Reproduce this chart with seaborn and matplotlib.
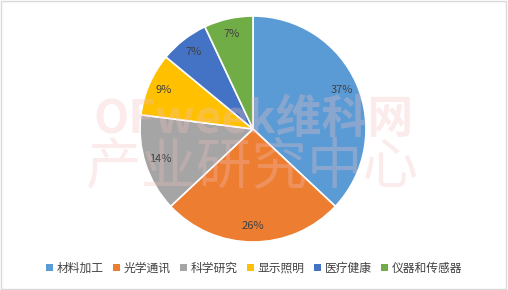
import matplotlib
matplotlib.use("Agg")
import matplotlib.pyplot as plt
import seaborn as sns
from matplotlib.patches import Patch, Rectangle

categories = ["材料加工", "光学通讯", "科学研究", "显示照明", "医疗健康", "仪器和传感器"]
values = [37, 26, 14, 9, 7, 7]
colors = ["#5B9BD5", "#ED7D31", "#A5A5A5", "#FFC000", "#4472C4", "#70AD47"]

sns.set_theme(style="white")
plt.rcParams['font.family'] = ['Noto Sans CJK SC', 'DejaVu Sans']

fig = plt.figure(figsize=(5.08, 2.90), dpi=100)
fig.patch.set_facecolor("white")
fig.patches.append(Rectangle((0.002, 0.003), 0.995, 0.994, transform=fig.transFigure,
                             fill=False, edgecolor="#D9D9D9", linewidth=1))

# pie centre (253,129) px, radius 113 px
r = 113
cx, cy = 253, 129
ax = fig.add_axes([(cx - r) / 508, (290 - cy - r) / 290, 2 * r / 508, 2 * r / 290])
pal = sns.color_palette(colors)
wedges, texts, autotexts = ax.pie(
    values, colors=pal, startangle=90, counterclock=False,
    autopct="%.0f%%", pctdistance=0.86,
    wedgeprops=dict(edgecolor="white", linewidth=1.2),
    textprops=dict(color="#404040", fontsize=8))
ax.set_xlim(-1, 1)
ax.set_ylim(-1, 1)
ax.set_aspect("equal")
ax.axis("off")

# watermark
fig.text(0.5, 1 - 120 / 290, "OFweek维科网", ha="center", va="center",
         fontsize=33, fontweight="bold", color="#F4C0C0", alpha=0.3, style="italic")
fig.text(0.495, 1 - 168 / 290, "产业研究中心", ha="center", va="center",
         fontsize=40, color="#F4C0C0", alpha=0.3)

handles = [Patch(facecolor=c, edgecolor="none") for c in colors]
fig.legend(handles, categories, loc="center", bbox_to_anchor=(0.5, 1 - 268 / 290),
           ncol=6, frameon=False, fontsize=8.5, handlelength=0.6, handleheight=0.6,
           handletextpad=0.3, columnspacing=0.8, labelcolor="#404040")

fig.savefig("out.png", dpi=100)
